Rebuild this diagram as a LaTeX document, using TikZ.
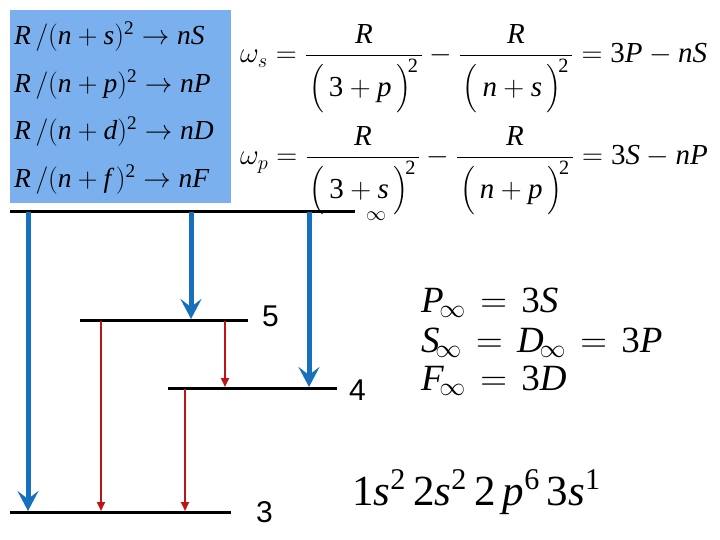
\RequirePackage{fix-cm}
\documentclass[tikz,border=0pt]{standalone}
\usepackage{amsmath}
\usepackage{graphicx}
\usepackage{fontspec}
\setmainfont{Liberation Serif}
\newfontfamily\sansf{Liberation Sans}
\usetikzlibrary{arrows.meta}
\newcommand\mi[1]{\textit{#1}}
\newcommand\tu[1]{\text{#1}}
\newcommand\lpar{\mathopen{\scalebox{1}[1.08]{$\bigl($}}\,}
\newcommand\rpar{\,\mathclose{\scalebox{1}[1.08]{$\bigr)$}}}
\newcommand\dn[1]{\mkern2mu#1\mkern2mu}
\definecolor{boxblue}{RGB}{122,176,238}
\definecolor{arrblue}{RGB}{22,112,190}
\definecolor{arrred}{RGB}{190,20,20}
\tikzset{
  level/.style={line width=3pt,black},
  bluearr/.style={line width=5pt,arrblue,-{Stealth[length=20pt,width=21pt,inset=8pt]}},
  redarr/.style={line width=1.8pt,arrred,-{Triangle[length=9pt,width=8pt]}},
  boxtxt/.style={anchor=west,inner sep=0pt,font=\fontsize{27.5}{32}\selectfont},
  eqtxt/.style={anchor=base west,inner sep=0pt,font=\fontsize{29}{36}\selectfont},
  lbl/.style={anchor=base west,inner sep=0pt,font=\sansf\fontsize{30}{32}\selectfont},
  lim/.style={anchor=base west,inner sep=0pt,font=\fontsize{37}{40}\selectfont}
}
\begin{document}
\begin{tikzpicture}[x=1pt,y=-1pt]
\useasboundingbox (0,0) rectangle (720,540);
\fill[boxblue] (10,10) rectangle (231,203);
\node[boxtxt] (t1) at (14,37) {$\mi{R}\,/(\mi{n}+\mi{s})^{\tu{2}}\rightarrow\mi{nS}$};
\node[boxtxt] (t2) at (14,85) {$\mi{R}\,/(\mi{n}+\mi{p})^{\tu{2}}\rightarrow\mi{nP}$};
\node[boxtxt] (t3) at (14,132) {$\mi{R}\,/(\mi{n}+\mi{d})^{\tu{2}}\rightarrow\mi{nD}$};
\node[boxtxt] (t4) at (14,180) {$\mi{R}\,/(\mi{n}+\mi{f}\,)^{\tu{2}}\rightarrow\mi{nF}$};
\node[eqtxt] (e1) at (240,63) {$\omega_s = \dfrac{\mi{R}}{\dn{\lpar\tu{3}+\mi{p}\rpar^{\!\tu{2}}}}-\dfrac{\mi{R}}{\dn{\lpar\mi{n}+\mi{s}\rpar^{\!\tu{2}}}}=\tu{3}\mi{P}-\mi{nS}$};
\node[eqtxt] (e2) at (240,165) {$\omega_p = \dfrac{\mi{R}}{\dn{\lpar\tu{3}+\mi{s}\rpar^{\!\tu{2}}}}-\dfrac{\mi{R}}{\dn{\lpar\mi{n}+\mi{p}\rpar^{\!\tu{2}}}}=\tu{3}\mi{S}-\mi{nP}$};
% levels
\draw[level] (10,212) coordinate (iL) -- (355,212) coordinate (iR);
\draw[level] (80,320) coordinate (fL) -- (248,320) coordinate (fR);
\draw[level] (168,388) coordinate (gL) -- (337,388) coordinate (gR);
\draw[level] (10,512) coordinate (hL) -- (231,512) coordinate (hR);
\node[inner sep=0pt,font=\fontsize{20}{22}\selectfont] (inf) at (376,216) {$\infty$};
\node[lbl] (l5) at (262,326) {5};
\node[lbl] (l4) at (349,400) {4};
\node[lbl] (l3) at (256,522) {3};
% arrows
\coordinate (a1s) at (28,212); \coordinate (a1e) at (28,511);
\coordinate (a2s) at (191,212); \coordinate (a2e) at (191,319);
\coordinate (a3s) at (309,212); \coordinate (a3e) at (309,387);
\draw[bluearr] (a1s) -- (a1e);
\draw[bluearr] (a2s) -- (a2e);
\draw[bluearr] (a3s) -- (a3e);
\coordinate (r1s) at (101,321); \coordinate (r1e) at (101,511);
\coordinate (r2s) at (225,321); \coordinate (r2e) at (225,387);
\coordinate (r3s) at (185,389); \coordinate (r3e) at (185,511);
\draw[redarr] (r1s) -- (r1e);
\draw[redarr] (r2s) -- (r2e);
\draw[redarr] (r3s) -- (r3e);
% limits
\node[lim] (p1) at (421,312) {$\mi{P}_{\!\infty}\mkern2mu=\mkern2mu\tu{3}\mi{S}$};
\node[lim] (p2) at (421,352) {$\mi{S}_{\!\infty}\mkern2mu=\mkern2mu\mi{D}_{\!\infty}\mkern2mu=\mkern2mu\tu{3}\mi{P}$};
\node[lim] (p3) at (421,390) {$\mi{F}_{\!\infty}\mkern2mu=\mkern2mu\tu{3}\mi{D}$};
\node[anchor=west,inner sep=0pt,font=\fontsize{43}{46}\selectfont] (cfg) at (352,492) {$\tu{1}\mi{s}^{\tu{2}}\,\tu{2}\mi{s}^{\tu{2}}\,\tu{2}\,\mi{p}^{\tu{6}}\,\tu{3}\mi{s}^{\tu{1}}$};
\end{tikzpicture}
\end{document}
